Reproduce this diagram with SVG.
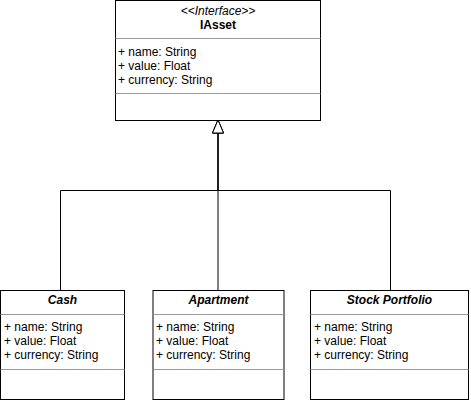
<svg xmlns="http://www.w3.org/2000/svg" width="471" height="401" viewBox="0 0 471 401">
<defs>
<style>
.box{fill:#ffffff;stroke:#000000;stroke-width:1}
.div{stroke:#999999;stroke-width:1}
.t{font-family:"Liberation Sans",Arial,Helvetica,sans-serif;font-size:12px;fill:#000000}
.c{text-anchor:middle}
.hb{font-weight:bold}
.hi{font-style:italic}
.edge{fill:none;stroke:#000000;stroke-width:1}
</style>
<marker id="tri" markerUnits="userSpaceOnUse" markerWidth="16" markerHeight="14" refX="0" refY="5.5" orient="auto" viewBox="-1 -1 16 14">
<path d="M0,0 L13,5.5 L0,11 Z" fill="#ffffff" stroke="#000000" stroke-width="1"/>
</marker>
</defs>

<g id="connectors">
<path class="edge" d="M218,290.5 V133" marker-end="url(#tri)"/>
<path class="edge" d="M60.5,290.5 V190.5 H218 V133" marker-end="url(#tri)"/>
<path class="edge" d="M390.5,290.5 V190.5 H218 V133" marker-end="url(#tri)"/>
</g>

<g id="IAsset">
<rect class="box" x="115.5" y="0.5" width="205" height="120"/>
<line class="div" x1="115.5" y1="38.5" x2="320.5" y2="38.5"/>
<line class="div" x1="115.5" y1="93.5" x2="320.5" y2="93.5"/>
<text class="t c hi" x="218" y="15">&lt;&lt;Interface&gt;&gt;</text>
<text class="t c hb" x="218" y="29">IAsset</text>
<text class="t" x="118" y="56">+ name: String</text>
<text class="t" x="118" y="70">+ value: Float</text>
<text class="t" x="118" y="84">+ currency: String</text>
</g>

<g id="Cash">
<rect class="box" x="0.5" y="290.5" width="124" height="109"/>
<line class="div" x1="0.5" y1="314.5" x2="124.5" y2="314.5"/>
<line class="div" x1="0.5" y1="369.5" x2="124.5" y2="369.5"/>
<text class="t c hb hi" x="62.5" y="304">Cash</text>
<text class="t" x="4" y="331">+ name: String</text>
<text class="t" x="4" y="345">+ value: Float</text>
<text class="t" x="4" y="359">+ currency: String</text>
</g>

<g id="Apartment">
<rect class="box" x="153" y="290.5" width="131" height="109"/>
<line class="div" x1="153" y1="314.5" x2="284" y2="314.5"/>
<line class="div" x1="153" y1="369.5" x2="284" y2="369.5"/>
<text class="t c hb hi" x="218.5" y="304">Apartment</text>
<text class="t" x="156" y="331">+ name: String</text>
<text class="t" x="156" y="345">+ value: Float</text>
<text class="t" x="156" y="359">+ currency: String</text>
</g>

<g id="StockPortfolio">
<rect class="box" x="310.5" y="290.5" width="158" height="109"/>
<line class="div" x1="310.5" y1="314.5" x2="468.5" y2="314.5"/>
<line class="div" x1="310.5" y1="369.5" x2="468.5" y2="369.5"/>
<text class="t c hb hi" x="389.5" y="304">Stock Portfolio</text>
<text class="t" x="314" y="331">+ name: String</text>
<text class="t" x="314" y="345">+ value: Float</text>
<text class="t" x="314" y="359">+ currency: String</text>
</g>
</svg>
